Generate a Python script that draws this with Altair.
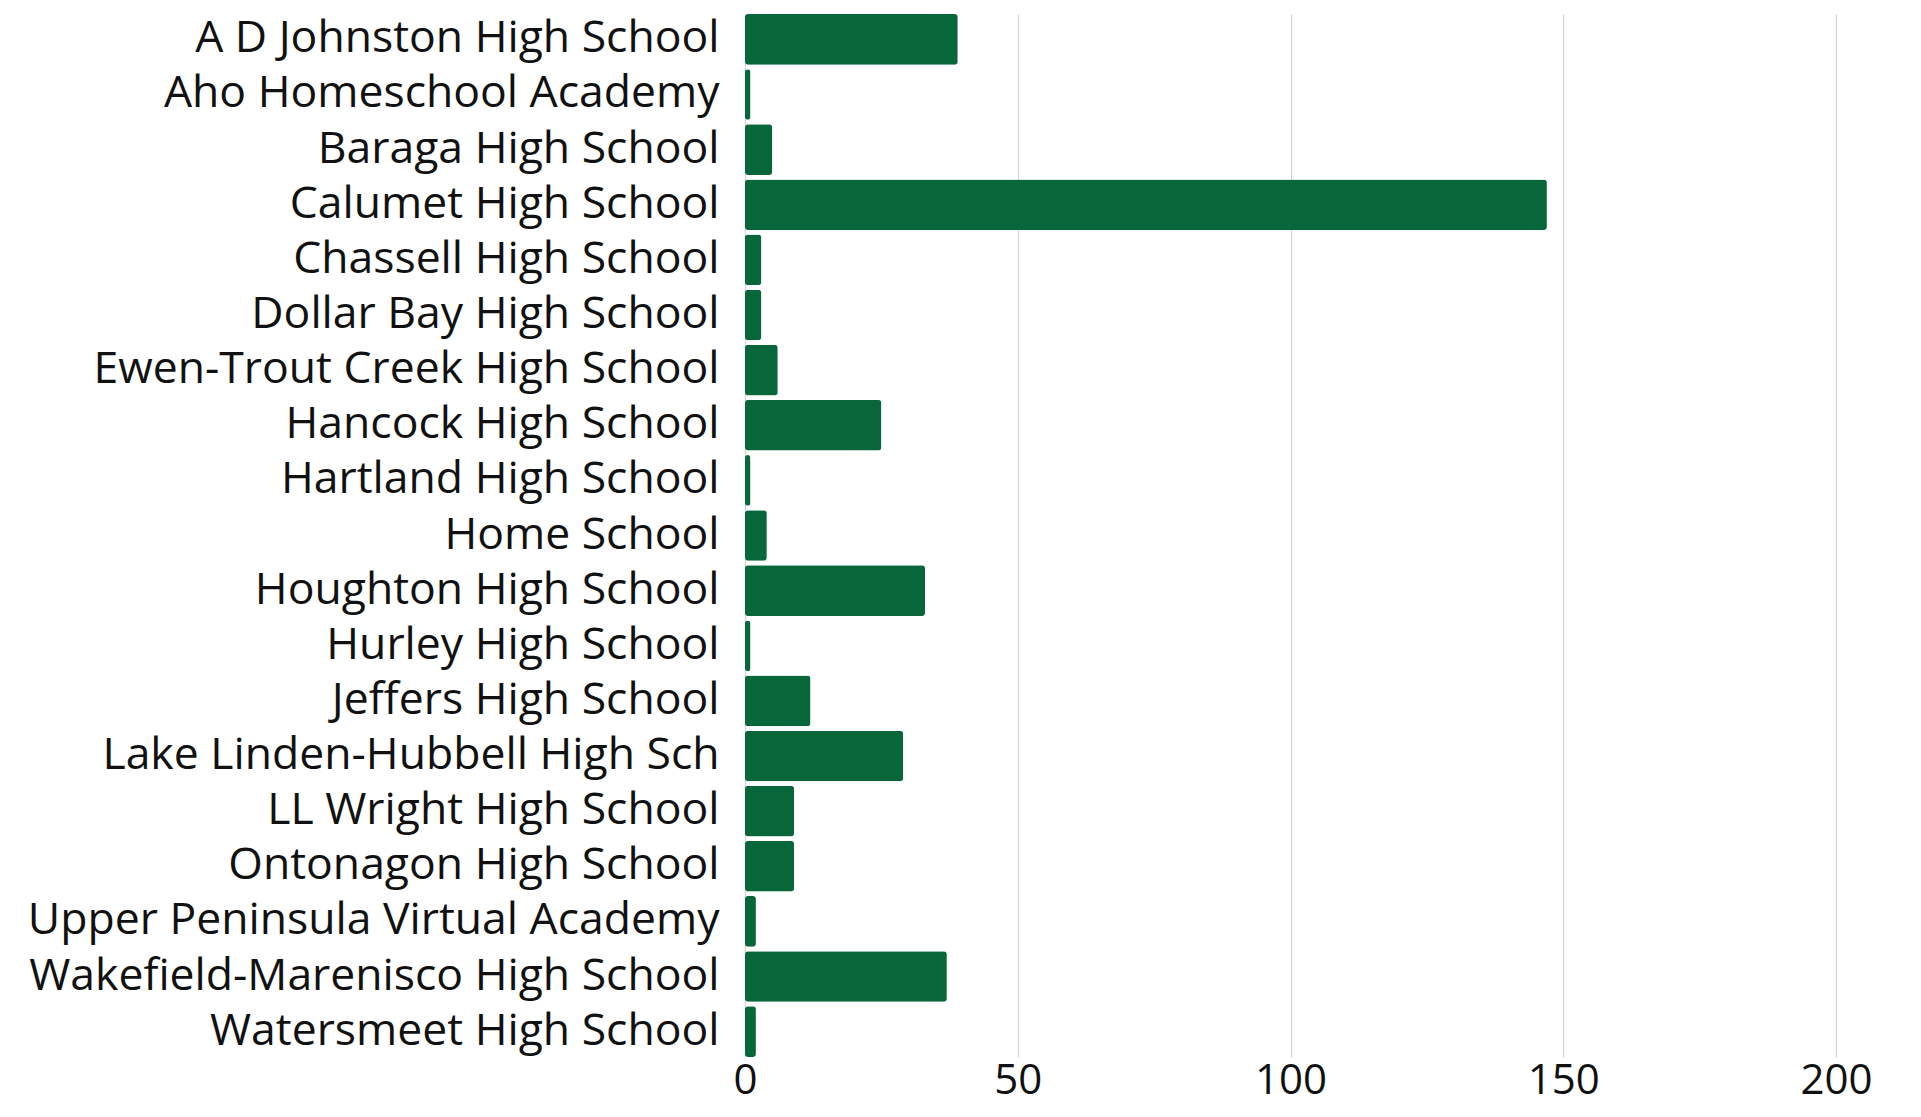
import altair as alt
import pandas as pd

schools = [
    "A D Johnston High School",
    "Aho Homeschool Academy",
    "Baraga High School",
    "Calumet High School",
    "Chassell High School",
    "Dollar Bay High School",
    "Ewen-Trout Creek High School",
    "Hancock High School",
    "Hartland High School",
    "Home School",
    "Houghton High School",
    "Hurley High School",
    "Jeffers High School",
    "Lake Linden-Hubbell High Sch",
    "LL Wright High School",
    "Ontonagon High School",
    "Upper Peninsula Virtual Academy",
    "Wakefield-Marenisco High School",
    "Watersmeet High School",
]
counts = [39, 1, 5, 147, 3, 3, 6, 25, 1, 4, 33, 1, 12, 29, 9, 9, 2, 37, 2]
x_ticks = [0, 50, 100, 150, 200]

df = pd.DataFrame({"school": schools, "count": counts})

FONT = "Open Sans"

chart = (
    alt.Chart(df)
    .mark_bar(color="#07673a", cornerRadius=3)
    .encode(
        y=alt.Y(
            "school:N",
            sort=schools,
            title=None,
            scale=alt.Scale(paddingInner=0.08, paddingOuter=0.0),
            axis=alt.Axis(
                domain=False,
                ticks=False,
                labelFont=FONT,
                labelFontSize=44.5,
                labelColor="#111111",
                labelPadding=26,
                labelLimit=900,
            ),
        ),
        x=alt.X(
            "count:Q",
            title=None,
            scale=alt.Scale(domain=[0, 200], nice=False),
            axis=alt.Axis(
                values=x_ticks,
                domain=False,
                ticks=False,
                grid=True,
                gridColor="#d4d4d4",
                gridWidth=1.2,
                labelFont=FONT,
                labelFontSize=42,
                labelColor="#111111",
                labelPadding=3,
                labelFlush=False,
            ),
        ),
    )
    .properties(
        width=1091,
        height=1043,
        autosize=alt.AutoSizeParams(type="none"),
        padding={"left": 737, "top": 6, "right": 60, "bottom": 58},
    )
    .configure_view(stroke=None)
)

chart.save("out.html", embed_options={"renderer": "svg", "actions": False})
